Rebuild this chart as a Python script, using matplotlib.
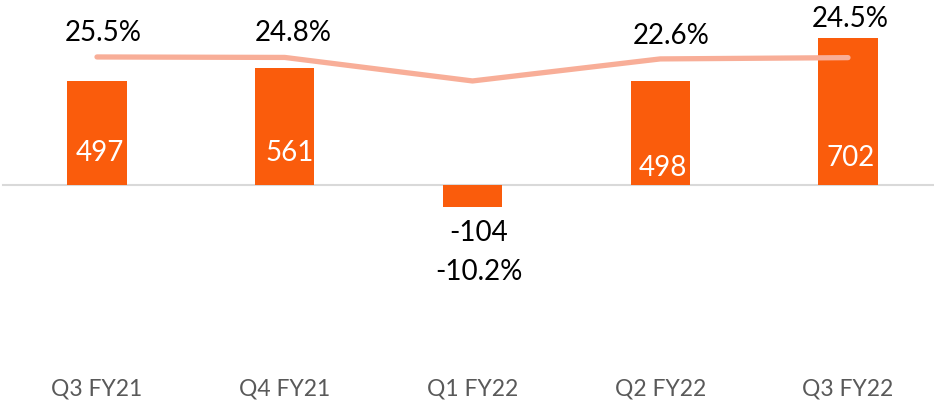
import matplotlib
matplotlib.use("Agg")
import matplotlib.pyplot as plt
from matplotlib import font_manager

categories = ["Q3 FY21", "Q4 FY21", "Q1 FY22", "Q2 FY22", "Q3 FY22"]
values = [497, 561, -104, 498, 702]
margins = [25.5, 24.8, -10.2, 22.6, 24.5]
value_labels = ["497", "561", "-104", "498", "702"]
margin_labels = ["25.5%", "24.8%", "-10.2%", "22.6%", "24.5%"]

names = {f.name for f in font_manager.fontManager.ttflist}
cat_font = "Liberation Sans Narrow" if "Liberation Sans Narrow" in names else "Lato"
main_font = "Lato"

BAR = "#FA5C0C"
LINE = "#F8AE98"

W, H = 934, 402
fig = plt.figure(figsize=(W / 100, H / 100), dpi=100)
ax = fig.add_axes([0, 42 / H, 1, 1 - 42 / H])
x = list(range(len(categories)))

ax.set_xlim(-97 / 187.75, (W - 97) / 187.75)
ax.set_ylim(-(360 - 186) / 0.2094, 186 / 0.2094)
ax.bar(x, values, width=0.315, color=BAR, zorder=2)
ax.axhline(0, color="#D9D9D9", lw=1.5, zorder=1, xmin=0.003)

for s in ax.spines.values():
    s.set_visible(False)
ax.set_yticks([])
ax.set_xticks(x)
ax.set_xticklabels(categories, family=[cat_font, "DejaVu Sans"], fontsize=16.5, color="#595959")
ax.tick_params(axis="x", length=0, pad=13)

ax2 = ax.twinx()
ax2.set_ylim(-(360 - 75.1) / 0.672, 75.1 / 0.672)
ax2.set_yticks([])
for s in ax2.spines.values():
    s.set_visible(False)
ax2.plot(x, margins, color=LINE, lw=3.8, solid_capstyle="round", solid_joinstyle="round", zorder=3)

# label offsets in pixels (from bar base for positive bars, from bar end for negative)
bar_offsets = [(3, 33), (5, 33), (6, -25), (3, 18), (3, 28)]
for i, (v, lab) in enumerate(zip(values, value_labels)):
    dx, dy = bar_offsets[i]
    col = "white" if v > 0 else "black"
    base = 0 if v > 0 else v
    ax.annotate(lab, (i, base), xytext=(dx, dy), textcoords="offset pixels",
                ha="center", va="center", fontsize=20, color=col, family=main_font, zorder=4)

pct_offsets = [(6, 25), (8, 25), (6, -190), (11, 24), (2, 40)]
for i, (m, lab) in enumerate(zip(margins, margin_labels)):
    dx, dy = pct_offsets[i]
    ax2.annotate(lab, (i, m), xytext=(dx, dy), textcoords="offset pixels",
                 ha="center", va="center", fontsize=20, color="black", family=main_font, zorder=4)

fig.savefig("out.png", dpi=100)
